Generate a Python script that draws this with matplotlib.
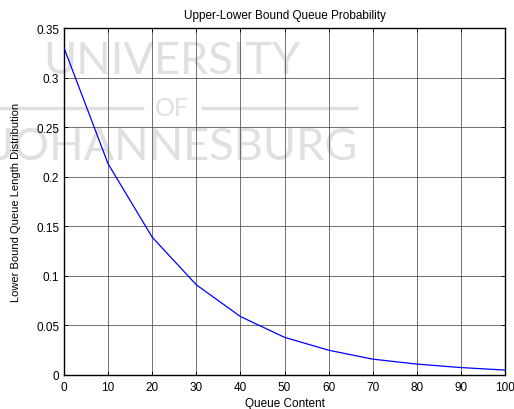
import matplotlib
matplotlib.use("Agg")
import matplotlib.pyplot as plt
import numpy as np

# Data
queue_content = [0, 10, 20, 30, 40, 50, 60, 70, 80, 90, 100]
probability = [0.330, 0.213, 0.139, 0.091, 0.059, 0.038, 0.025, 0.016, 0.011, 0.0075, 0.005]

x_ticks = np.arange(0, 101, 10)
y_ticks = [0, 0.05, 0.1, 0.15, 0.2, 0.25, 0.3, 0.35]
y_labels = ['0', '0.05', '0.1', '0.15', '0.2', '0.25', '0.3', '0.35']

plt.rcParams['font.family'] = ['Liberation Sans', 'DejaVu Sans']

fig = plt.figure(figsize=(5.14, 4.10), dpi=100)
ax = fig.add_axes([64 / 514, 1 - 376 / 410, 441 / 514, 347 / 410])
ax.set_facecolor('none')

ax.plot(queue_content, probability, color='#0000ff', lw=0.9, zorder=3)

ax.set_xlim(0, 100)
ax.set_ylim(0, 0.35)
ax.set_xticks(x_ticks)
ax.set_yticks(y_ticks)
ax.set_yticklabels(y_labels)
ax.grid(True, color='#3a3a3a', lw=0.5, ls='-')
ax.tick_params(direction='in', length=3, width=0.6, labelsize=8.5,
               top=True, right=True)
ax.tick_params(axis='x', pad=4)
for s in ax.spines.values():
    s.set_linewidth(1.0)

ax.set_title('Upper-Lower Bound Queue Probability', fontsize=8.5, pad=7)
ax.set_xlabel('Queue Content', fontsize=8.5, labelpad=3)
ax.set_ylabel('Lower Bound Queue Length Distribution', fontsize=8, labelpad=11)

# watermark, behind the axes
wm_color = '#e0e0e0'
wm = dict(color=wm_color, fontfamily=['Lato', 'DejaVu Sans'],
          ha='center', va='center', zorder=-1)
fig.text(172 / 514, 1 - 62 / 410, 'UNIVERSITY', fontsize=32.5, **wm)
fig.text(172 / 514, 1 - 109 / 410, 'OF', fontsize=18, **wm)
fig.text(176 / 514, 1 - 148 / 410, 'JOHANNESBURG', fontsize=32.5, **wm)
for x0, x1 in [(0, 142), (203, 356)]:
    fig.add_artist(plt.Line2D([x0 / 514, x1 / 514], [1 - 109 / 410] * 2,
                              color=wm_color, lw=2.5, transform=fig.transFigure,
                              zorder=-1))

fig.savefig('out.png', dpi=100)
